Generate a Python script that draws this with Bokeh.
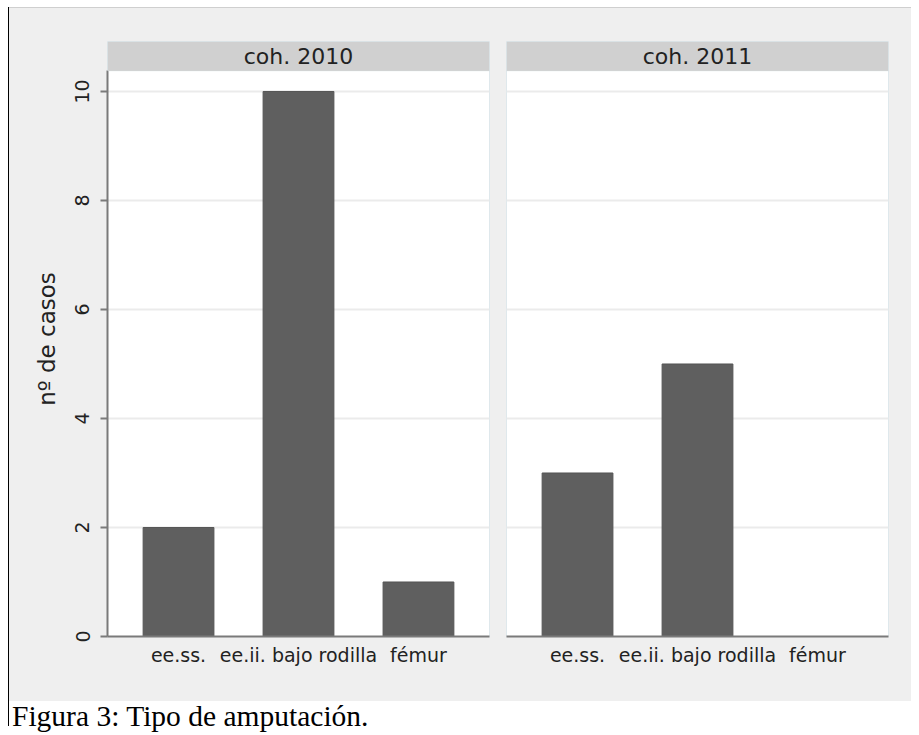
from bokeh.plotting import figure
from bokeh.models import Range1d, FixedTicker, BoxAnnotation, Label, Div
from bokeh.layouts import row, column
from bokeh.embed import file_html
from bokeh.resources import INLINE

categories = ["ee.ss.", "ee.ii. bajo rodilla", "fémur"]
positions = [1, 2, 3]
values_2010 = [2, 10, 1]
values_2011 = [3, 5, 0]
panel_titles = ["coh. 2010", "coh. 2011"]
y_ticks = [0, 2, 4, 6, 8, 10]

Y_TOP = 10.917
STRIP_BOTTOM = 10.376
FONT = "DejaVu Sans"


def make_panel(title, vals, first):
    p = figure(
        frame_width=382, frame_height=595,
        min_border_left=98 if first else 9,
        min_border_right=8 if first else 23,
        min_border_top=33, min_border_bottom=65,
        x_range=Range1d(0.408, 3.592), y_range=Range1d(0, Y_TOP),
        output_backend="svg", toolbar_location=None,
        background_fill_color="white", border_fill_color="#efefef",
        outline_line_color="#dfe8ec", outline_line_width=1, margin=0,
    )
    p.vbar(x=positions, top=vals, width=0.59, bottom=0,
           fill_color="#5f5f5f", line_color="#555555", line_width=1)

    p.xgrid.visible = False
    p.ygrid.ticker = FixedTicker(ticks=y_ticks[1:])
    p.ygrid.grid_line_color = "#ebebeb"
    p.ygrid.grid_line_width = 2

    xa = p.xaxis[0]
    xa.ticker = FixedTicker(ticks=positions)
    xa.major_label_overrides = {pos: lab for pos, lab in zip(positions, categories)}
    xa.major_tick_out = 0
    xa.major_tick_in = 0
    xa.minor_tick_out = 0
    xa.minor_tick_in = 0
    xa.axis_line_color = "#7a7a7a"
    xa.axis_line_width = 2
    xa.major_label_text_font = FONT
    xa.major_label_text_font_size = "19px"
    xa.major_label_text_color = "#222222"
    xa.major_label_standoff = 7

    ya = p.yaxis[0]
    if first:
        ya.ticker = FixedTicker(ticks=y_ticks)
        ya.bounds = (0, STRIP_BOTTOM)
        ya.major_tick_out = 7
        ya.major_tick_in = 0
        ya.minor_tick_out = 0
        ya.minor_tick_in = 0
        ya.major_tick_line_color = "#7a7a7a"
        ya.major_tick_line_width = 2
        ya.axis_line_color = "#7a7a7a"
        ya.axis_line_width = 2
        ya.major_label_orientation = "vertical"
        ya.major_label_text_font = FONT
        ya.major_label_text_font_size = "19px"
        ya.major_label_text_color = "#222222"
        ya.major_label_standoff = 11
        ya.axis_label = "nº de casos"
        ya.axis_label_text_font = FONT
        ya.axis_label_text_font_size = "23px"
        ya.axis_label_text_font_style = "normal"
        ya.axis_label_text_color = "#222222"
        ya.axis_label_standoff = 13
    else:
        ya.visible = False

    strip = BoxAnnotation(bottom=STRIP_BOTTOM, fill_color="#d0d0d0", fill_alpha=1,
                          line_color="#d8e2e6", line_width=1, level="overlay")
    p.add_layout(strip)
    lab = Label(x=2, y=(STRIP_BOTTOM + Y_TOP) / 2, text=title,
                text_align="center", text_baseline="middle",
                text_font=FONT, text_font_size="22px", text_color="#222222",
                level="overlay")
    p.add_layout(lab)
    return p


p1 = make_panel(panel_titles[0], values_2010, True)
p2 = make_panel(panel_titles[1], values_2011, False)

top_line = Div(text="", width=902, height=1, margin=0,
               styles={"background-color": "#cfcfcf"})
caption = Div(text="Figura 3: Tipo de amputación.", width=902, height=25, margin=0,
              styles={"font-family": "Liberation Serif", "font-size": "29.5px",
                      "line-height": "29px", "color": "black", "overflow": "visible",
                      "padding-left": "3px", "padding-top": "1px",
                      "white-space": "nowrap"})
left_line = Div(text="", width=1, height=719, margin=0,
                styles={"background-color": "black"})

panels = row(p1, p2, spacing=0, margin=0, styles={"background-color": "#efefef"})
layout = row(left_line,
             column(top_line, panels, caption, spacing=0, margin=0),
             spacing=0, margin=(7, 0, 0, 8))

open("out.html", "w").write(file_html(layout, INLINE))
